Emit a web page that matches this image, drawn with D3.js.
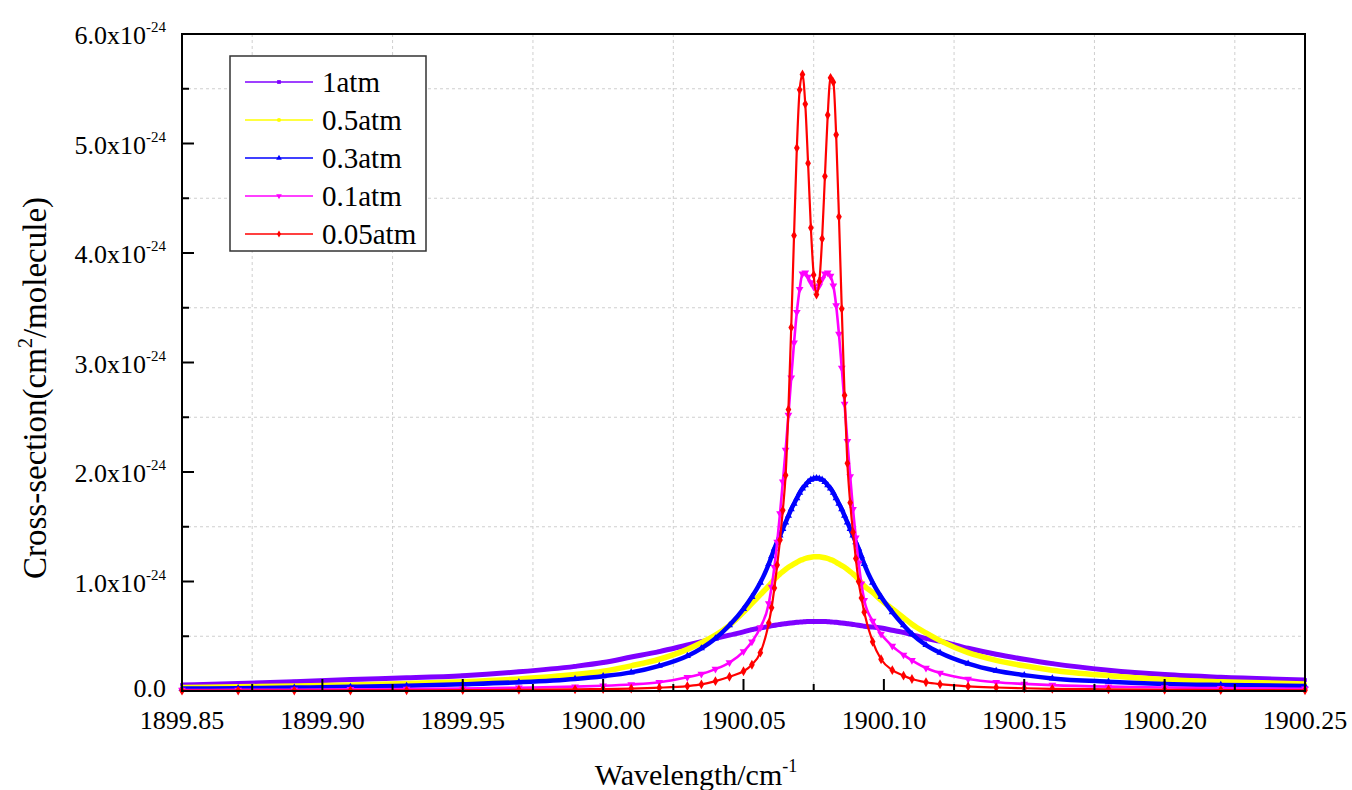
<!DOCTYPE html>
<html lang="en">
<head>
<meta charset="UTF-8">
<title>Cross-section vs wavelength</title>
<script src="https://d3js.org/d3.v7.min.js"></script>
<style>
    body { margin: 0; background: #fff; }
    text { font-family: "Liberation Serif", "Times New Roman", serif; fill: #000; }
</style>
</head>
<body>
<svg id="chart" width="1352" height="790"></svg>
<script>
    // wavenumber samples (cm-1), fine steps round the line centre
    const wavenumber = [
        1899.85, 1899.87, 1899.89, 1899.91, 1899.93, 1899.95, 1899.97, 1899.99, 1900.00, 1900.01,
        1900.02, 1900.03, 1900.035, 1900.04, 1900.045, 1900.05, 1900.053, 1900.056,
        1900.059, 1900.060, 1900.061, 1900.062, 1900.063, 1900.064, 1900.065, 1900.066, 1900.067,
        1900.068, 1900.069, 1900.070, 1900.071, 1900.072, 1900.073, 1900.074, 1900.075, 1900.076,
        1900.077, 1900.078, 1900.079, 1900.080, 1900.081, 1900.082, 1900.083, 1900.084, 1900.085,
        1900.086, 1900.087, 1900.088, 1900.089, 1900.090, 1900.091, 1900.092, 1900.093,
        1900.096, 1900.099, 1900.103, 1900.107, 1900.11, 1900.115, 1900.12, 1900.13, 1900.14,
        1900.15, 1900.16, 1900.18, 1900.20, 1900.22, 1900.25
    ];

    // cross-section values, unit 1e-24 cm2/molecule
    const sigma1atm = [
        0.055, 0.068, 0.085, 0.105, 0.12, 0.14, 0.175, 0.225, 0.26, 0.31,
        0.36, 0.42, 0.45, 0.48, 0.51, 0.54, 0.56, 0.575,
        0.590, 0.595, 0.600, 0.604, 0.608, 0.612, 0.615, 0.618, 0.621,
        0.624, 0.627, 0.629, 0.631, 0.633, 0.634, 0.635, 0.635, 0.635,
        0.635, 0.635, 0.634, 0.633, 0.631, 0.629, 0.627, 0.624, 0.621,
        0.618, 0.615, 0.612, 0.608, 0.604, 0.600, 0.596, 0.592,
        0.585, 0.575, 0.555, 0.535, 0.515, 0.48, 0.455, 0.39, 0.335,
        0.29, 0.25, 0.19, 0.15, 0.125, 0.10
    ];
    const sigma05atm = [
        0.032, 0.038, 0.045, 0.055, 0.068, 0.085, 0.11, 0.15, 0.18, 0.23,
        0.29, 0.38, 0.44, 0.51, 0.60, 0.72, 0.80, 0.88,
        0.96, 0.99, 1.02, 1.045, 1.07, 1.09, 1.11, 1.13, 1.145,
        1.16, 1.175, 1.19, 1.20, 1.21, 1.217, 1.222, 1.225, 1.226,
        1.225, 1.222, 1.217, 1.21, 1.20, 1.19, 1.175, 1.16, 1.145,
        1.13, 1.11, 1.09, 1.07, 1.045, 1.02, 0.99, 0.96,
        0.90, 0.83, 0.75, 0.67, 0.61, 0.53, 0.46, 0.35, 0.28,
        0.23, 0.19, 0.14, 0.105, 0.085, 0.065
    ];
    const sigma03atm = [
        0.022, 0.026, 0.031, 0.038, 0.048, 0.062, 0.08, 0.11, 0.135, 0.17,
        0.23, 0.32, 0.39, 0.48, 0.60, 0.75, 0.86, 0.99,
        1.16, 1.23, 1.30, 1.36, 1.42, 1.48, 1.54, 1.60, 1.66,
        1.71, 1.76, 1.81, 1.85, 1.88, 1.91, 1.93, 1.94, 1.945,
        1.94, 1.93, 1.91, 1.88, 1.85, 1.81, 1.76, 1.71, 1.66,
        1.60, 1.54, 1.48, 1.42, 1.36, 1.30, 1.23, 1.16,
        0.99, 0.86, 0.72, 0.60, 0.52, 0.42, 0.35, 0.25, 0.185,
        0.145, 0.115, 0.085, 0.065, 0.055, 0.046
    ];
    const sigma01atm = [
        0.009, 0.010, 0.012, 0.015, 0.018, 0.023, 0.03, 0.04, 0.048, 0.06,
        0.08, 0.125, 0.155, 0.20, 0.26, 0.36, 0.45, 0.58,
        0.80, 0.95, 1.13, 1.36, 1.62, 1.91, 2.20, 2.52, 2.86,
        3.18, 3.46, 3.67, 3.81, 3.82, 3.78, 3.73, 3.69, 3.67,
        3.70, 3.76, 3.81, 3.82, 3.79, 3.70, 3.52, 3.26, 2.95,
        2.62, 2.28, 1.96, 1.66, 1.40, 1.17, 0.98, 0.83,
        0.64, 0.52, 0.41, 0.33, 0.28, 0.21, 0.165, 0.11, 0.08,
        0.065, 0.054, 0.04, 0.032, 0.026, 0.02
    ];
    const sigma005atm = [
        0.003, 0.004, 0.004, 0.005, 0.006, 0.008, 0.011, 0.015, 0.018, 0.022,
        0.03, 0.045, 0.06, 0.09, 0.13, 0.18, 0.24, 0.35,
        0.62, 0.76, 0.94, 1.15, 1.38, 1.65, 1.97, 2.57, 3.32,
        4.16, 4.96, 5.49, 5.63, 5.36, 4.82, 4.23, 3.80, 3.62,
        3.74, 4.13, 4.70, 5.26, 5.60, 5.56, 5.08, 4.33, 3.49,
        2.70, 2.08, 1.72, 1.45, 1.21, 1.00, 0.85, 0.72,
        0.45, 0.29, 0.19, 0.14, 0.11, 0.08, 0.062, 0.042, 0.032,
        0.025, 0.02, 0.015, 0.011, 0.009, 0.007
    ];

    const seriesNames = ["1atm", "0.5atm", "0.3atm", "0.1atm", "0.05atm"];
    const xTickValues = [1899.85, 1899.90, 1899.95, 1900.00, 1900.05, 1900.10, 1900.15, 1900.20, 1900.25];
    const yTickValues = [0, 1, 2, 3, 4, 5, 6];

    const series = [
        { name: seriesNames[0], values: sigma1atm, color: "#7f00ff", width: 5, symbol: d3.symbolSquare, size: 14 },
        { name: seriesNames[1], values: sigma05atm, color: "#ffff00", width: 5.5, symbol: d3.symbolCircle, size: 14 },
        { name: seriesNames[2], values: sigma03atm, color: "#0000ff", width: 4.5, symbol: d3.symbolTriangle, size: 22 },
        { name: seriesNames[3], values: sigma01atm, color: "#ff00ff", width: 2.6, symbol: d3.symbolTriangle, size: 26, flip: true },
        { name: seriesNames[4], values: sigma005atm, color: "#ff0000", width: 2.2, symbol: d3.symbolDiamond, size: 28 }
    ];

    const plotLeft = 182, plotRight = 1305, plotTop = 34, plotBottom = 691;
    const svg = d3.select("#chart");

    const x = d3.scaleLinear().domain([1899.85, 1900.25]).range([plotLeft, plotRight]);
    const y = d3.scaleLinear().domain([0, 6]).range([plotBottom, plotTop]);

    // grid at the minor tick positions
    const xMinor = xTickValues.slice(1).map((v, i) => (v + xTickValues[i]) / 2);
    const yMinor = yTickValues.slice(1).map(v => v - 0.5);

    const grid = svg.append("g").attr("class", "grid");
    grid.selectAll(".gx").data(xMinor).enter().append("line")
        .attr("x1", d => x(d)).attr("x2", d => x(d))
        .attr("y1", plotTop).attr("y2", plotBottom)
        .attr("stroke", "#cfcfcf").attr("stroke-dasharray", "3,3");
    grid.selectAll(".gy").data(yMinor).enter().append("line")
        .attr("x1", plotLeft).attr("x2", plotRight)
        .attr("y1", d => y(d)).attr("y2", d => y(d))
        .attr("stroke", "#cfcfcf").attr("stroke-dasharray", "3,3");

    // curves
    const line = d3.line()
        .x((d, i) => x(wavenumber[i]))
        .y(d => y(d))
        .curve(d3.curveMonotoneX);

    const plot = svg.append("g");
    series.forEach(s => {
        plot.append("path")
            .attr("d", line(s.values))
            .attr("fill", "none")
            .attr("stroke", s.color)
            .attr("stroke-width", s.width)
            .attr("stroke-linejoin", "round");

        plot.append("g").selectAll("path")
            .data(s.values)
            .enter().append("path")
            .attr("d", d3.symbol().type(s.symbol).size(s.size))
            .attr("transform", (d, i) => `translate(${x(wavenumber[i])},${y(d)})` + (s.flip ? " rotate(180)" : ""))
            .attr("fill", s.color);
    });

    // axes frame
    svg.append("rect")
        .attr("x", plotLeft).attr("y", plotTop)
        .attr("width", plotRight - plotLeft).attr("height", plotBottom - plotTop)
        .attr("fill", "none").attr("stroke", "#000").attr("stroke-width", 2);

    const ticks = svg.append("g").attr("stroke", "#000").attr("stroke-width", 2);
    xTickValues.forEach(v => {
        ticks.append("line").attr("x1", x(v)).attr("x2", x(v)).attr("y1", plotBottom).attr("y2", plotBottom - 12);
    });
    xMinor.forEach(v => {
        ticks.append("line").attr("x1", x(v)).attr("x2", x(v)).attr("y1", plotBottom).attr("y2", plotBottom - 7);
    });
    yTickValues.forEach(v => {
        ticks.append("line").attr("x1", plotLeft).attr("x2", plotLeft + 12).attr("y1", y(v)).attr("y2", y(v));
    });
    yMinor.forEach(v => {
        ticks.append("line").attr("x1", plotLeft).attr("x2", plotLeft + 7).attr("y1", y(v)).attr("y2", y(v));
    });

    // tick labels
    svg.append("g").selectAll("text")
        .data(xTickValues)
        .enter().append("text")
        .attr("x", d => x(d))
        .attr("y", plotBottom + 38)
        .attr("text-anchor", "middle")
        .attr("font-size", 26)
        .text(d => d3.format(".2f")(d));

    const yLab = svg.append("g").selectAll("text")
        .data(yTickValues)
        .enter().append("text")
        .attr("x", 166)
        .attr("y", d => d === 0 ? y(d) + 6 : y(d) + 10)
        .attr("text-anchor", "end")
        .attr("font-size", 26);
    yLab.each(function (d) {
        const t = d3.select(this);
        if (d === 0) {
            t.text("0.0");
        } else {
            t.append("tspan").text(d3.format(".1f")(d) + "x10");
            t.append("tspan").attr("dy", -12).attr("font-size", 15).text("-24");
        }
    });

    // axis titles
    const xTitle = svg.append("text")
        .attr("x", 696).attr("y", 785)
        .attr("text-anchor", "middle")
        .attr("font-size", 30);
    xTitle.append("tspan").text("Wavelength/cm");
    xTitle.append("tspan").attr("dy", -13).attr("font-size", 18).text("-1");

    const yTitle = svg.append("text")
        .attr("transform", "translate(46,388) rotate(-90)")
        .attr("text-anchor", "middle")
        .attr("font-size", 33);
    yTitle.append("tspan").text("Cross-section(cm");
    yTitle.append("tspan").attr("dy", -14).attr("font-size", 20).text("2");
    yTitle.append("tspan").attr("dy", 14).text("/molecule)");

    // legend
    const legend = svg.append("g");
    legend.append("rect")
        .attr("x", 230).attr("y", 56)
        .attr("width", 196).attr("height", 195)
        .attr("fill", "#fff").attr("stroke", "#333").attr("stroke-width", 1.5);

    const item = legend.selectAll(".item")
        .data(series)
        .enter().append("g")
        .attr("transform", (d, i) => `translate(0,${82 + i * 38})`);
    item.append("line")
        .attr("x1", 245).attr("x2", 313)
        .attr("stroke", d => d.color).attr("stroke-width", 1.5);
    item.append("path")
        .attr("d", d => d3.symbol().type(d.symbol).size(14)())
        .attr("transform", d => "translate(279,0)" + (d.flip ? " rotate(180)" : ""))
        .attr("fill", d => d.color);
    item.append("text")
        .attr("x", 322).attr("y", 10)
        .attr("font-size", 29)
        .text(d => d.name);
</script>
</body>
</html>
